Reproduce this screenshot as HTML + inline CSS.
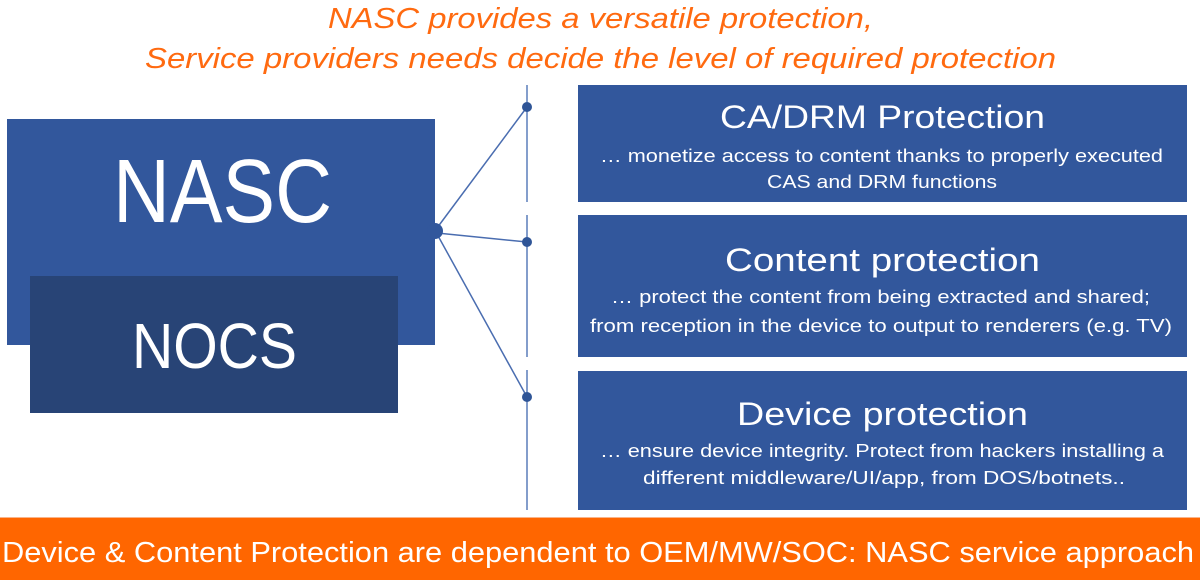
<!DOCTYPE html>
<html>
<head>
<meta charset="utf-8">
<style>
html,body{margin:0;padding:0;background:#fff;}
svg{display:block;}
</style>
</head>
<body>
<svg width="1200" height="580" viewBox="0 0 1200 580" xmlns="http://www.w3.org/2000/svg">
  <rect x="0" y="0" width="1200" height="580" fill="#ffffff"/>

  <!-- Title -->
  <g font-family="Liberation Sans, Arial, sans-serif" font-style="italic" fill="#ff6a10" font-size="29">
    <text x="328" y="28" textLength="545" lengthAdjust="spacingAndGlyphs">NASC provides a versatile protection,</text>
    <text x="145" y="68" textLength="911" lengthAdjust="spacingAndGlyphs">Service providers needs decide the level of required protection</text>
  </g>

  <!-- NASC box -->
  <rect x="7" y="119" width="428" height="226" fill="#32579c"/>
  <!-- NOCS box -->
  <rect x="30" y="276" width="368" height="137" fill="#284476"/>

  <g font-family="Liberation Sans, Arial, sans-serif" fill="#ffffff">
    <text x="113" y="222" font-size="90" textLength="219" lengthAdjust="spacingAndGlyphs">NASC</text>
    <text x="132" y="368" font-size="64" textLength="165" lengthAdjust="spacingAndGlyphs">NOCS</text>
  </g>

  <!-- Vertical connector line (segmented) -->
  <g stroke="#5a7dba" stroke-width="1.5">
    <line x1="527" y1="85" x2="527" y2="202"/>
    <line x1="527" y1="215" x2="527" y2="357"/>
    <line x1="527" y1="370" x2="527" y2="510"/>
  </g>
  <!-- Branch lines -->
  <g stroke="#4a6db0" stroke-width="1.5" fill="none">
    <line x1="437" y1="228" x2="527" y2="107"/>
    <line x1="437" y1="233" x2="527" y2="242"/>
    <line x1="437" y1="234" x2="527" y2="397"/>
  </g>
  <circle cx="435" cy="231" r="8" fill="#32579c"/>
  <circle cx="527" cy="107" r="5" fill="#2f5597"/>
  <circle cx="527" cy="242" r="5" fill="#2f5597"/>
  <circle cx="527" cy="397" r="5" fill="#2f5597"/>

  <!-- Right boxes -->
  <rect x="578" y="85" width="609" height="117" fill="#32579c"/>
  <rect x="578" y="215" width="609" height="142" fill="#32579c"/>
  <rect x="578" y="371" width="609" height="139" fill="#32579c"/>

  <g font-family="Liberation Sans, Arial, sans-serif" fill="#ffffff">
    <text x="720" y="128" font-size="32" textLength="325" lengthAdjust="spacingAndGlyphs">CA/DRM Protection</text>
    <text x="600" y="162" font-size="18.5" textLength="563" lengthAdjust="spacingAndGlyphs">… monetize access to content thanks to properly executed</text>
    <text x="767" y="188" font-size="18.5" textLength="230" lengthAdjust="spacingAndGlyphs">CAS and DRM functions</text>

    <text x="725" y="271" font-size="32" textLength="315" lengthAdjust="spacingAndGlyphs">Content protection</text>
    <text x="611" y="303" font-size="18.5" textLength="539" lengthAdjust="spacingAndGlyphs">… protect the content from being extracted and shared;</text>
    <text x="590" y="332" font-size="18.5" textLength="582" lengthAdjust="spacingAndGlyphs">from reception in the device to output to renderers (e.g. TV)</text>

    <text x="737" y="425" font-size="32" textLength="291" lengthAdjust="spacingAndGlyphs">Device protection</text>
    <text x="600" y="457" font-size="18.5" textLength="564" lengthAdjust="spacingAndGlyphs">… ensure device integrity. Protect from hackers installing a</text>
    <text x="643" y="484" font-size="18.5" textLength="482" lengthAdjust="spacingAndGlyphs">different middleware/UI/app, from DOS/botnets..</text>
  </g>

  <!-- Orange footer bar -->
  <line x1="0" y1="517.5" x2="1200" y2="517.5" stroke="#f9b48a" stroke-width="1"/>
  <rect x="0" y="518" width="1200" height="62" fill="#ff6600"/>
  <text x="2" y="562" font-family="Liberation Sans, Arial, sans-serif" font-size="29" fill="#ffffff" textLength="1192" lengthAdjust="spacingAndGlyphs">Device &amp; Content Protection are dependent to OEM/MW/SOC: NASC service approach</text>
</svg>
</body>
</html>
